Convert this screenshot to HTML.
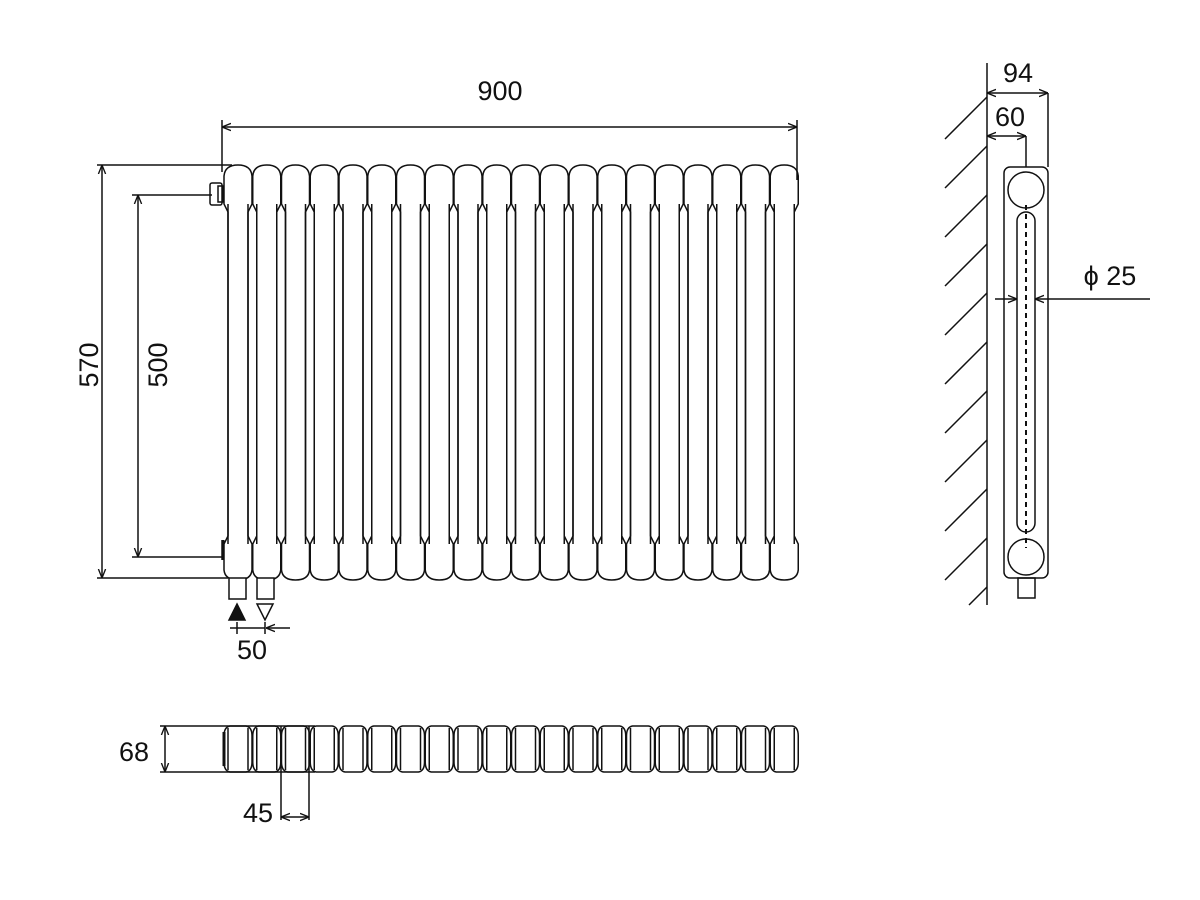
<!DOCTYPE html>
<html><head><meta charset="utf-8"><style>
html,body{margin:0;padding:0;background:#fff;width:1200px;height:900px;overflow:hidden}
svg{display:block}
text{font-family:"Liberation Sans",sans-serif;fill:#111}
</style></head><body>
<svg id="s" width="1200" height="900" viewBox="0 0 1200 900" xmlns="http://www.w3.org/2000/svg">
<defs>
<marker id="a" viewBox="0 0 10 10" refX="10" refY="5" markerWidth="9" markerHeight="9" orient="auto-start-reverse" markerUnits="userSpaceOnUse"><path d="M0,1 L10,5 L0,9" fill="none" stroke="#111" stroke-width="1.5"/></marker>
</defs>
<g id="g" fill="none" stroke="#111" stroke-width="1.5"></g>
</svg>
<script>
var g=document.getElementById('g'),h='';
function L(x1,y1,x2,y2,m){h+='<line x1="'+x1+'" y1="'+y1+'" x2="'+x2+'" y2="'+y2+'"'+(m||'')+'/>';}
var ME=' marker-end="url(#a)"',MB=' marker-start="url(#a)" marker-end="url(#a)"';
for(var i=0;i<20;i++){var c=238+i*28.75;
 h+='<path fill="#fff" d="M'+(c-10)+',212 L'+(c-14)+',204 L'+(c-14)+',176 Q'+(c-13)+',165 '+(c)+',165 Q'+(c+13)+',165 '+(c+14)+',176 L'+(c+14)+',204 L'+(c+10)+',212 L'+(c+10)+',536 L'+(c+14)+',544 L'+(c+14)+',570 Q'+(c+13)+',580 '+c+',580 Q'+(c-13)+',580 '+(c-14)+',570 L'+(c-14)+',544 L'+(c-10)+',536 Z"/>';
 L(c-10,204,c-10,544);L(c+10,204,c+10,544);
 h+='<path fill="#fff" d="M'+(c-8)+',726 L'+(c+8)+',726 Q'+(c+14)+',727 '+(c+14)+',736 L'+(c+14)+',762 Q'+(c+14)+',771 '+(c+8)+',772 L'+(c-8)+',772 Q'+(c-14)+',771 '+(c-14)+',762 L'+(c-14)+',736 Q'+(c-14)+',727 '+(c-8)+',726 Z"/>';
 L(c-10,728,c-10,770);L(c+10,728,c+10,770);
}
h+='<rect x="210" y="183" width="12" height="22" rx="2"/><rect x="218" y="186" width="5" height="16"/>';
L(222,540,222,560);
h+='<line x1="223" y1="540" x2="223" y2="560" stroke-width="3"/>';
h+='<line x1="224" y1="732" x2="224" y2="766" stroke-width="3"/>';
h+='<rect x="229" y="578" width="17" height="21" fill="#fff"/><rect x="257" y="578" width="17" height="21" fill="#fff"/>';
h+='<path d="M237,604 L245,620 L229,620 Z" fill="#111"/><path d="M257,604 L273,604 L265,620 Z"/>';
L(230,628,265,628);L(237,622,237,634);L(265,622,265,634);L(290,628,266,628,ME);
L(222,120,222,172);L(797,120,797,180);L(222,127,797,127,MB);
L(97,165,232,165);L(97,578,228,578);L(102,165,102,578,MB);
L(132,195,212,195);L(132,557,224,557);L(138,195,138,557,MB);
L(987,63,987,605);
for(var y=97;y<=600;y+=49){var y2=Math.min(y+42,605);L(987,y,987-(y2-y),y2);}
h+='<rect x="1004" y="167" width="44" height="411" rx="6" fill="#fff"/>';
h+='<circle cx="1026" cy="190" r="18"/><circle cx="1026" cy="557" r="18"/>';
h+='<rect x="1017" y="212" width="18" height="320" rx="9"/>';
h+='<line x1="1026" y1="205" x2="1026" y2="548" stroke-dasharray="5,4" stroke-width="2"/>';
h+='<rect x="1018" y="578" width="17" height="20"/>';
L(1048,93,1048,167);L(987,93,1048,93,MB);
L(1026,136,1026,167);L(987,136,1026,136,MB);
L(995,299,1017,299,ME);L(1150,299,1035,299,ME);
L(160,726,315,726);L(160,772,315,772);L(165,726,165,772,MB);
L(281,726,281,820);L(309,726,309,820);L(281,817,309,817,MB);
g.innerHTML=h;
</script>
<svg width="1200" height="900" style="position:absolute;left:0;top:0" xmlns="http://www.w3.org/2000/svg">
<g style="font-family:'Liberation Sans',sans-serif" font-size="27" text-anchor="middle">
<text x="500" y="100">900</text>
<text transform="translate(98,365) rotate(-90)">570</text>
<text transform="translate(167,365) rotate(-90)">500</text>
<text x="252" y="659">50</text>
<text x="134" y="761">68</text>
<text x="258" y="822">45</text>
<text x="1018" y="82">94</text>
<text x="1010" y="126">60</text>
<text x="1110" y="285">ϕ 25</text>
</g>
</svg>
</body></html>
